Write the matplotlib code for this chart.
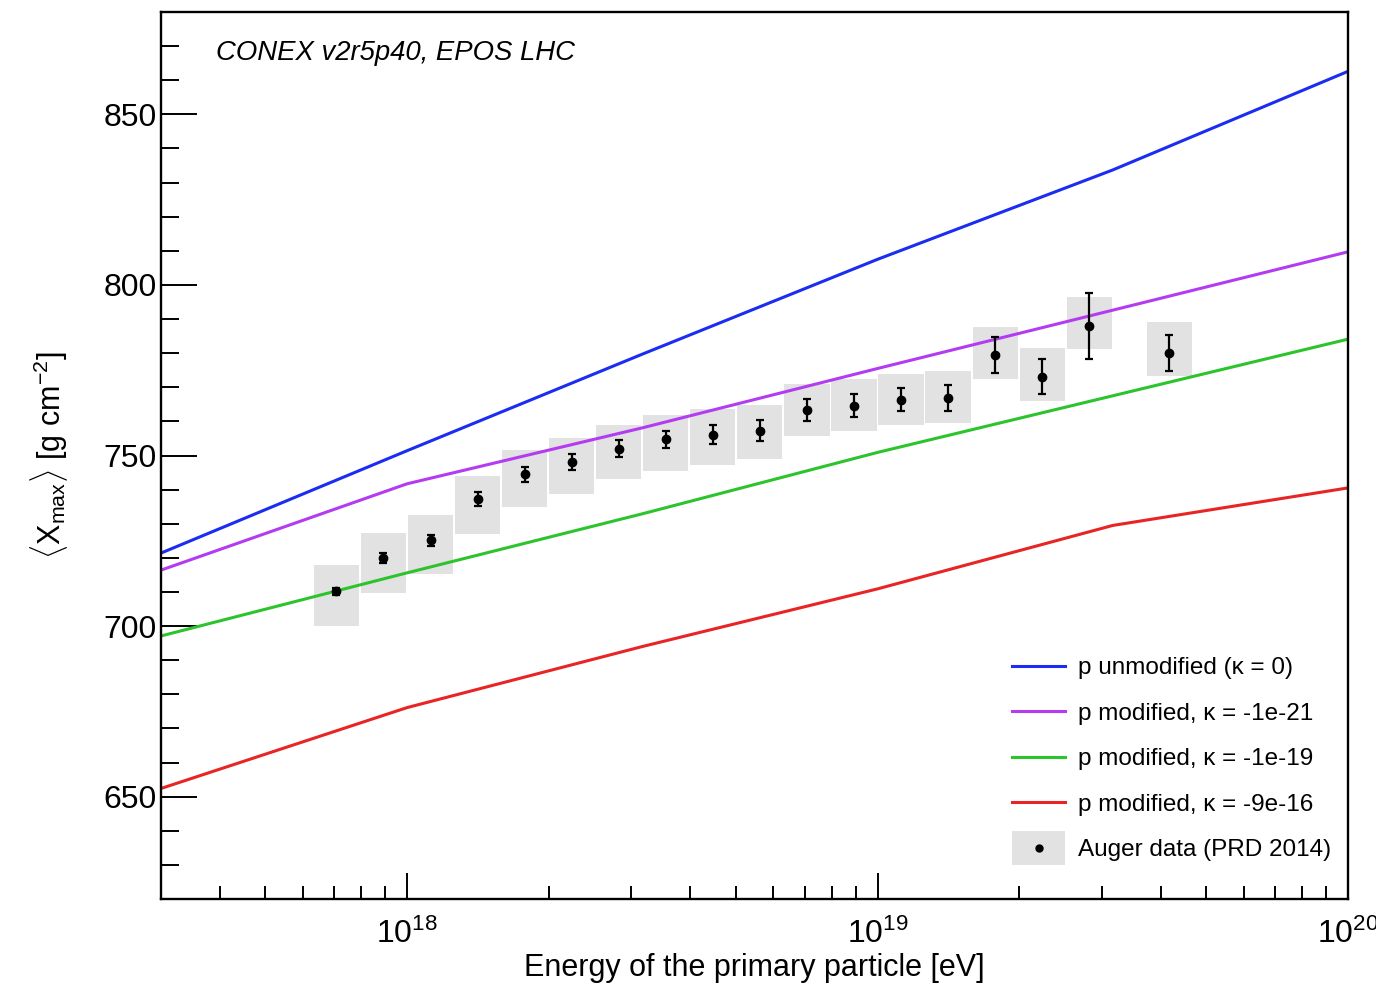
import matplotlib
matplotlib.use('Agg')
import matplotlib.pyplot as plt
import numpy as np
from matplotlib.patches import Rectangle
from matplotlib.lines import Line2D
from matplotlib.legend_handler import HandlerBase
from matplotlib.ticker import MultipleLocator, LogLocator, NullFormatter

plt.rcParams['font.family'] = ['Liberation Sans', 'DejaVu Sans']
plt.rcParams['mathtext.fontset'] = 'custom'
plt.rcParams['mathtext.rm'] = 'Liberation Sans'
plt.rcParams['mathtext.it'] = 'Liberation Sans:italic'
plt.rcParams['mathtext.bf'] = 'Liberation Sans:bold'

# ---- simulation curves (energy in eV, <Xmax> in g/cm^2) ----
sim_energy = [3e17, 1e18, 10**18.5, 1e19, 10**19.5, 1e20]
xmax_unmod = [721.4, 751.4, 779.7, 807.5, 833.7, 862.6]
xmax_k1e21 = [716.4, 741.7, 758.1, 775.5, 792.6, 809.7]
xmax_k1e19 = [697.1, 715.6, 732.9, 750.9, 767.5, 784.1]
xmax_k9e16 = [652.4, 676.1, 694.0, 710.9, 729.5, 740.5]

curve_labels = ['p unmodified (κ = 0)', 'p modified, κ = -1e-21',
                'p modified, κ = -1e-19', 'p modified, κ = -9e-16']
curve_colors = ['#1a2df0', '#b43cf0', '#2cc42c', '#e82424']

# ---- Auger data (PRD 2014) ----
auger_lgE = [17.85, 17.95, 18.05, 18.15, 18.25, 18.35, 18.45, 18.55, 18.65,
             18.75, 18.85, 18.95, 19.05, 19.15, 19.25, 19.35, 19.45, 19.62]
auger_xmax = [710.2, 719.9, 725.2, 737.2, 744.5, 748.0, 752.0, 754.7, 756.1,
              757.3, 763.4, 764.6, 766.4, 766.9, 779.5, 773.1, 788.0, 780.1]
auger_stat = [1.0, 1.5, 1.6, 2.1, 2.2, 2.3, 2.4, 2.6, 2.8,
              3.0, 3.2, 3.3, 3.5, 3.8, 5.2, 5.2, 9.7, 5.2]
auger_sys_up = [7.6, 7.4, 7.3, 6.7, 7.2, 7.2, 7.0, 7.3, 7.6,
                7.6, 7.5, 7.7, 7.6, 8.0, 8.3, 8.4, 8.6, 9.1]
auger_sys_dn = [10.1, 10.1, 10.0, 10.2, 9.7, 9.4, 8.8, 9.3, 8.8,
                8.2, 7.8, 7.5, 7.4, 7.3, 7.1, 7.0, 6.9, 6.9]

box_color = '#e2e2e2'
half_w = 0.048  # box half width in decades

fig = plt.figure(figsize=(13.76, 9.86), dpi=100)
ax = fig.add_axes([161/1376, 1-899/986, (1348-161)/1376, (899-12)/986])

# systematic boxes
for lg, y, up, dn in zip(auger_lgE, auger_xmax, auger_sys_up, auger_sys_dn):
    x0 = 10**(lg - half_w)
    x1 = 10**(lg + half_w)
    ax.add_patch(Rectangle((x0, y - dn), x1 - x0, up + dn,
                           facecolor=box_color, edgecolor='none', zorder=1))

# curves
for vals, lab, col in zip([xmax_unmod, xmax_k1e21, xmax_k1e19, xmax_k9e16],
                          curve_labels, curve_colors):
    ax.plot(sim_energy, vals, color=col, lw=2.2, label=lab, zorder=2)

# data points
auger_E = [10**v for v in auger_lgE]
ax.errorbar(auger_E, auger_xmax, yerr=auger_stat, fmt='o', color='black',
            ms=6, capsize=3, elinewidth=1.6, capthick=1.6, zorder=3)

ax.set_xscale('log')
ax.set_xlim(3e17, 1e20)
ax.set_ylim(620, 880)

ax.yaxis.set_major_locator(MultipleLocator(50))
ax.yaxis.set_minor_locator(MultipleLocator(10))
ax.xaxis.set_major_locator(LogLocator(base=10, numticks=10))
ax.xaxis.set_minor_locator(LogLocator(base=10, subs=np.arange(2, 10), numticks=20))
ax.xaxis.set_minor_formatter(NullFormatter())

ax.tick_params(axis='y', which='major', direction='in', length=26, width=1.4,
               left=True, right=False, labelsize=23, pad=3)
ax.tick_params(axis='y', which='minor', direction='in', length=13, width=1.4,
               left=True, right=False)
ax.tick_params(axis='x', which='major', direction='in', length=19, width=1.4,
               bottom=True, top=False, labelsize=23, pad=14)
ax.tick_params(axis='x', which='minor', direction='in', length=9.5, width=1.4,
               bottom=True, top=False)
for s in ax.spines.values():
    s.set_linewidth(1.7)

ax.set_xlabel('Energy of the primary particle [eV]', fontsize=22, labelpad=2)
ax.set_ylabel(r'$\langle\mathrm{X}_{\mathrm{max}}\rangle$ [g cm$^{-2}$]',
              fontsize=22, labelpad=24)

ax.text(0.0463, 0.954, 'CONEX v2r5p40, EPOS LHC', style='italic', fontsize=19.8,
        transform=ax.transAxes, va='center', ha='left')


class HandlerBoxDot(HandlerBase):
    def create_artists(self, legend, orig_handle, xdescent, ydescent, width,
                       height, fontsize, trans):
        h = height * 2.0
        rect = Rectangle((-xdescent, -ydescent + height / 2 - h / 2), width, h,
                         facecolor=box_color, edgecolor='none', transform=trans)
        dot = Line2D([-xdescent + width / 2], [-ydescent + height / 2], marker='o',
                     color='black', markersize=5, linestyle='none', transform=trans)
        return [rect, dot]


proxy = Rectangle((0, 0), 1, 1)
handles, labels = ax.get_legend_handles_labels()
handles.append(proxy)
labels.append('Auger data (PRD 2014)')
ax.legend(handles, labels, handler_map={proxy: HandlerBoxDot()},
          loc='upper left', bbox_to_anchor=((1012 - 161) / 1187, (899 - 657) / 887),
          frameon=False, fontsize=17.5, handlelength=2.2, handletextpad=0.5,
          labelspacing=0.97, borderpad=0, borderaxespad=0)

fig.savefig('out.png', dpi=100)
